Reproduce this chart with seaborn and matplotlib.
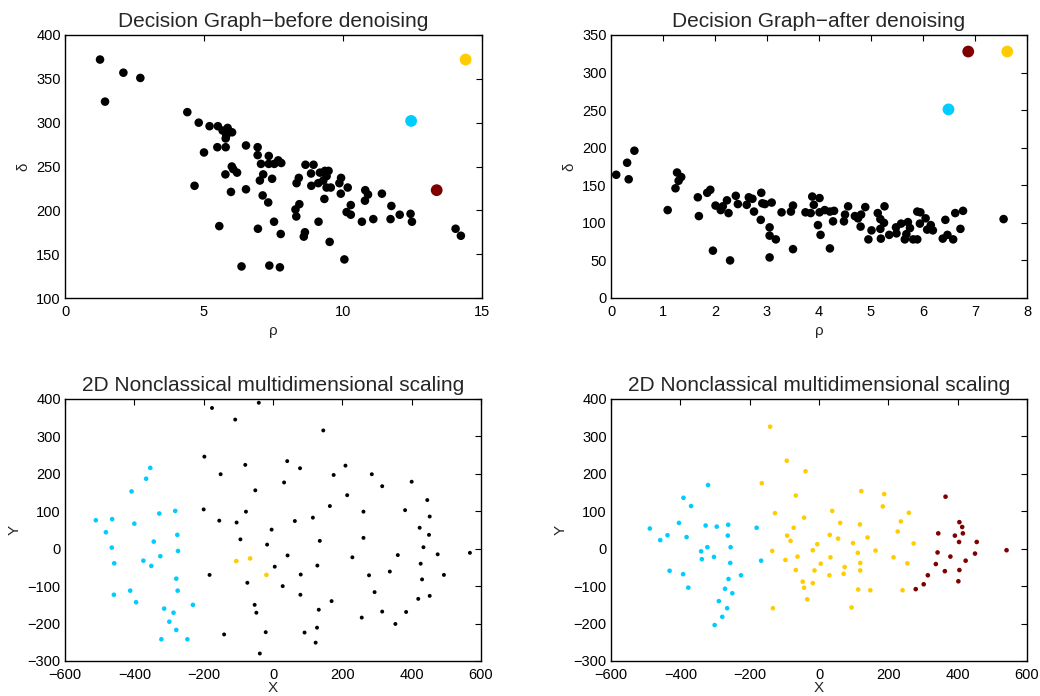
import matplotlib
matplotlib.use("Agg")
import matplotlib.pyplot as plt
import seaborn as sns
import pandas as pd

# ---------------- data ----------------
# Panel 1: decision graph before denoising
p1_rho = [1.26, 2.10, 2.71, 1.44, 4.40, 4.81, 5.20, 5.50, 5.67, 5.85, 6.01, 5.78,
          5.48, 5.78, 6.51, 6.93, 6.93, 7.33, 5.00, 7.05, 7.33, 7.53, 7.67, 7.78,
          6.00, 6.19, 5.77, 4.66, 5.97, 6.51, 7.13, 7.01, 7.45, 7.11, 7.31,
          5.55, 6.94, 7.52, 7.76, 6.35, 7.35, 7.73, 8.65, 8.94, 8.85, 8.41, 8.33,
          8.86, 9.17, 9.35, 9.48, 9.41, 9.29, 9.11, 9.41, 9.56, 9.33, 9.93, 9.87,
          10.17, 9.92, 8.43, 8.29, 8.32, 8.63, 8.59, 9.12, 9.52, 10.05, 10.28,
          10.13, 10.28, 10.68, 10.80, 10.90, 10.79, 11.09, 11.40, 11.74, 11.71,
          12.04, 12.43, 12.48, 14.05, 14.24, 5.80, 6.05]
p1_delta = [372, 357, 351, 324, 312, 300, 296, 296, 291, 294, 289, 282,
            272, 272, 274, 272, 263, 262, 266, 253, 253, 253, 257, 254,
            250, 243, 241, 228, 221, 224, 241, 234, 236, 217, 209,
            182, 179, 187, 173, 136, 137, 135, 252, 252, 242, 237, 231,
            228, 243, 245, 245, 239, 234, 231, 226, 226, 213, 237, 231,
            226, 219, 207, 201, 193, 175, 170, 187, 164, 144, 206,
            198, 195, 187, 223, 218, 211, 190, 219, 205, 190,
            195, 196, 187, 179, 171, 285, 247]
p1_c_rho = [14.41, 12.45, 13.37]
p1_c_delta = [372, 302, 223]
p1_c_cluster = ["A", "B", "C"]

# Panel 2: decision graph after denoising
p2_rho = [0.10, 0.31, 0.34, 0.45, 1.09, 1.27, 1.35, 1.30, 1.24, 1.67, 1.69, 1.85,
          1.91, 1.96, 2.01, 2.11, 2.15, 2.23, 2.26, 2.29, 2.40, 2.44, 2.61, 2.65,
          2.72, 2.75, 2.89, 2.91, 2.96, 3.09, 2.88, 3.05, 3.05, 3.05, 3.17, 3.28,
          3.46, 3.50, 3.50, 3.74, 3.84, 3.87, 3.90, 4.01, 4.01, 3.98, 4.03, 4.11,
          4.21, 4.29, 4.27, 4.21, 4.48, 4.50, 4.56, 4.69, 4.75, 4.81, 4.80, 4.89,
          4.95, 5.01, 5.13, 5.18, 5.26, 5.25, 5.18, 5.19, 5.35, 5.48, 5.49, 5.58,
          5.65, 5.68, 5.71, 5.75, 5.81, 5.89, 5.89, 5.95, 5.94, 6.05, 6.08, 6.15,
          6.19, 6.38, 6.43, 6.47, 6.58, 6.62, 6.72, 6.77, 7.55]
p2_delta = [164, 180, 158, 196, 117, 167, 161, 156, 146, 134, 109, 140,
            144, 63, 123, 117, 122, 130, 113, 50, 136, 125, 124, 134,
            132, 115, 140, 126, 125, 127, 104, 94, 83, 54, 78, 114,
            115, 123, 65, 114, 113, 135, 124, 133, 114, 97, 84, 117,
            115, 116, 102, 66, 102, 111, 122, 109, 106, 111, 95, 121,
            78, 90, 113, 105, 122, 100, 92, 79, 84, 94, 86, 99,
            78, 85, 101, 93, 78, 78, 115, 114, 99, 106, 91, 97,
            90, 79, 104, 84, 78, 113, 92, 116, 105]
p2_c_rho = [7.62, 6.49, 6.87]
p2_c_delta = [328, 251, 328]
p2_c_cluster = ["A", "B", "C"]

# Panel 3: NMDS before denoising
p3_cyan_x = [-511, -464, -482, -465, -458, -459, -412, -395, -408, -366, -354, -400,
             -328, -282, -344, -374, -351, -325, -276, -274, -279, -275, -314, -287,
             -299, -279, -322, -247, -231]
p3_cyan_y = [76, 79, 44, 3, -39, -123, -112, -143, 153, 187, 216, 67,
             94, 101, 19, -32, -46, -20, 37, -6, -80, -112, -160, -171,
             -195, -217, -242, -242, -150]
p3_yellow_x = [-106, -66, -19]
p3_yellow_y = [-33, -26, -70]
p3_black_x = [-176, -41, -109, 145, -198, -151, -80, -51, 41, 78, 32, 175, 209, 214,
              164, 285, 315, 400, 445, 381, 261, 452, 423, 450, 434, 475, 568, 360,
              426, 430, 493, 452, 419, 384, 353, 315, 293, 277, 337, 261, 229, 256,
              -200, -155, -78, -105, -94, -4, -17, 63, 115, 135, 42, 5, 128, 80, 28,
              79, 169, 132, -183, -74, -53, -48, -141, -21, -38, 91, 127, 123]
p3_black_y = [376, 390, 345, 316, 246, 199, 224, 156, 234, 215, 177, 197, 222, 143,
              114, 199, 167, 179, 130, 103, 99, 86, 56, 37, 4, -15, -11, -17,
              -40, -82, -70, -126, -134, -169, -201, -168, -116, -71, -61, 29, -23, -184,
              105, 75, 99, 70, 25, 51, 11, 74, 83, 21, -18, -48, -45, -69, -100,
              -123, -140, -163, -70, -91, -150, -171, -229, -223, -280, -224, -211, -251]

# Panel 4: NMDS after denoising
p4_cyan_x = [-488, -458, -437, -431, -404, -391, -369, -382, -392, -377, -320, -327,
             -322, -340, -338, -303, -295, -262, -263, -255, -256, -261, -271, -250,
             -289, -265, -279, -301, -225, -180, -167]
p4_cyan_y = [54, 23, 36, -59, 69, 136, 114, 31, -68, -104, 170, 62,
             4, -7, -28, -22, 59, 64, 35, 4, -38, -81, -107, -119,
             -140, -159, -182, -204, -71, 56, -32]
p4_yellow_x = [-141, -93, -39, -165, -67, -127, -43, -73, -92, -82, -135, -97, -62,
               -67, -47, -43, -34, -18, -13, -18, -5, 5, -133, 31, 33, 30, 38, 55,
               61, 74, 71, 98, 112, 118, 119, 119, 140, 113, 148, 94, 122, 163, 188,
               184, 215, 227, 236, 255, 259, 273, 241]
p4_yellow_y = [326, 235, 207, 175, 142, 95, 83, 56, 35, 21, -6, -30, -21,
               -57, -88, -104, -135, -92, -58, -4, 12, -40, -159, 37, -23, -71, 101, 27,
               69, -49, -67, 15, -11, 65, -38, -58, 30, -109, -111, -157, 154, -5, 146,
               113, -23, 46, 73, -39, 96, 14, -111]
p4_red_x = [279, 302, 314, 337, 342, 344, 363, 365, 379, 392, 405, 413, 415, 404,
            423, 405, 402, 450, 455, 541]
p4_red_y = [-108, -95, -71, -41, -10, 41, -60, 139, -21, 35, 71, 58, 41, 18,
            -32, -57, -87, -13, 18, -4]

# ---------------- style ----------------
CYAN = "#00ccff"
YELLOW = "#ffcc00"
DARKRED = "#800000"
palette_centers = {"A": YELLOW, "B": CYAN, "C": DARKRED}

sns.set_style("white")
plt.rcParams["font.family"] = ["Liberation Sans", "DejaVu Sans"]
plt.rcParams["axes.unicode_minus"] = True

fig = plt.figure(figsize=(10.4, 6.96), dpi=100)
W, H = 1040, 696


def add_ax(l, r, t, b):
    return fig.add_axes([l / W, 1 - b / H, (r - l) / W, (b - t) / H])


ax1 = add_ax(65, 482, 35, 298)
ax2 = add_ax(611, 1027, 35, 298)
ax3 = add_ax(65, 481, 399, 661)
ax4 = add_ax(611, 1027, 399, 661)

# Panel 1
sns.scatterplot(x=p1_rho, y=p1_delta, color="black", s=38, edgecolor="none", ax=ax1)
df1c = pd.DataFrame({"rho": p1_c_rho, "delta": p1_c_delta, "cl": p1_c_cluster})
sns.scatterplot(data=df1c, x="rho", y="delta", hue="cl", palette=palette_centers,
                s=72, edgecolor="none", legend=False, ax=ax1)
ax1.set_xlim(0, 15)
ax1.set_ylim(100, 400)
ax1.set_xticks([0, 5, 10, 15])
ax1.set_yticks(range(100, 401, 50))
ax1.set_xlabel("ρ")
ax1.set_ylabel("δ")
ax1.set_title("Decision Graph\u2212before denoising")

# Panel 2
sns.scatterplot(x=p2_rho, y=p2_delta, color="black", s=38, edgecolor="none", ax=ax2)
df2c = pd.DataFrame({"rho": p2_c_rho, "delta": p2_c_delta, "cl": p2_c_cluster})
sns.scatterplot(data=df2c, x="rho", y="delta", hue="cl", palette=palette_centers,
                s=72, edgecolor="none", legend=False, ax=ax2)
ax2.set_xlim(0, 8)
ax2.set_ylim(0, 350)
ax2.set_xticks(range(0, 9))
ax2.set_yticks(range(0, 351, 50))
ax2.set_xlabel("ρ")
ax2.set_ylabel("δ")
ax2.set_title("Decision Graph\u2212after denoising")

# Panel 3
sns.scatterplot(x=p3_black_x, y=p3_black_y, color="black", s=8, edgecolor="none", ax=ax3)
sns.scatterplot(x=p3_cyan_x, y=p3_cyan_y, color=CYAN, s=11, edgecolor="none", ax=ax3)
sns.scatterplot(x=p3_yellow_x, y=p3_yellow_y, color=YELLOW, s=11, edgecolor="none", ax=ax3)

# Panel 4
sns.scatterplot(x=p4_cyan_x, y=p4_cyan_y, color=CYAN, s=11, edgecolor="none", ax=ax4)
sns.scatterplot(x=p4_yellow_x, y=p4_yellow_y, color=YELLOW, s=11, edgecolor="none", ax=ax4)
sns.scatterplot(x=p4_red_x, y=p4_red_y, color=DARKRED, s=11, edgecolor="none", ax=ax4)

for ax in (ax3, ax4):
    ax.set_xlim(-600, 600)
    ax.set_ylim(-300, 400)
    ax.set_xticks(range(-600, 601, 200))
    ax.set_yticks(range(-300, 401, 100))
    ax.set_xlabel("X", labelpad=-1)
    ax.set_ylabel("Y")
    ax.set_title("2D Nonclassical multidimensional scaling")

for ax in (ax1, ax2, ax3, ax4):
    for sp in ax.spines.values():
        sp.set_visible(True)
        sp.set_color("black")
        sp.set_linewidth(1.0)
    ax.tick_params(direction="in", top=True, right=True, length=4, width=0.8,
                   labelsize=10.5, colors="black", pad=3)
    ax.tick_params(axis="x", pad=5)
    ax.title.set_fontsize(15)
    ax.xaxis.label.set_fontsize(11)
    ax.yaxis.label.set_fontsize(11)
    ax.set_facecolor("white")

fig.savefig("out.png", dpi=100, facecolor="white")
